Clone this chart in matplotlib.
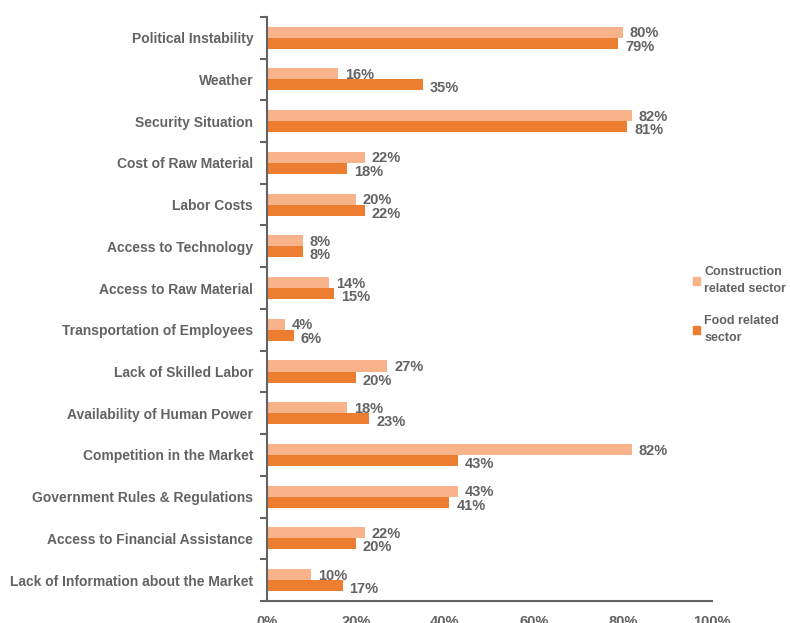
import matplotlib.pyplot as plt
from matplotlib.patches import Rectangle
import numpy as np

plt.rcParams["font.family"] = ["Liberation Sans", "DejaVu Sans"]

categories = ["Political Instability", "Weather", "Security Situation",
              "Cost of Raw Material", "Labor Costs", "Access to Technology",
              "Access to Raw Material", "Transportation of Employees",
              "Lack of Skilled Labor", "Availability of Human Power",
              "Competition in the Market", "Government Rules & Regulations",
              "Access to Financial Assistance",
              "Lack of Information about the Market"]
construction = [80, 16, 82, 22, 20, 8, 14, 4, 27, 18, 82, 43, 22, 10]
food = [79, 35, 81, 18, 22, 8, 15, 6, 20, 23, 43, 41, 20, 17]
xticks = [0, 20, 40, 60, 80, 100]

light = "#F8B38A"
dark = "#ED7D31"
gray = "#636363"

fig = plt.figure(figsize=(7.9, 6.23), dpi=100)
ax = fig.add_axes([0.338, 0.0353, 0.563, 0.9377])

y = np.arange(len(categories))
h = 0.265
ax.barh(y - h / 2, construction, height=h, color=light)
ax.barh(y + h / 2, food, height=h, color=dark)

for i in range(len(categories)):
    ax.annotate(f"{construction[i]}%", (construction[i], y[i] - h / 2),
                xytext=(5, -0.8), textcoords="offset points", va="center",
                ha="left", color=gray, fontsize=10.5, fontweight="bold")
    ax.annotate(f"{food[i]}%", (food[i], y[i] + h / 2),
                xytext=(5, -2.5), textcoords="offset points", va="center",
                ha="left", color=gray, fontsize=10.5, fontweight="bold")

ax.set_xlim(0, 100)
ax.set_ylim(len(categories) - 0.5, -0.5)
ax.set_yticks(y)
ax.set_yticklabels(categories, fontsize=10, fontweight="bold", color=gray)
ax.set_yticks(np.arange(len(categories) + 1) - 0.5, minor=True)
ax.tick_params(axis="y", which="major", length=0, pad=10)
ax.tick_params(axis="y", which="minor", length=5, width=1.5, color=gray)
ax.set_xticks(xticks)
ax.set_xticklabels([f"{v}%" for v in xticks], fontsize=10.5,
                   fontweight="bold", color=gray)
ax.tick_params(axis="x", length=0, pad=10)

for s in ["top", "right"]:
    ax.spines[s].set_visible(False)
for s in ["left", "bottom"]:
    ax.spines[s].set_color(gray)
    ax.spines[s].set_linewidth(1.5)

handles = [Rectangle((0, 0), 1, 1, color=light), Rectangle((0, 0), 1, 1, color=dark)]
leg = fig.legend(handles, ["Construction\nrelated sector", "Food related\nsector"],
                 loc="upper left", bbox_to_anchor=(0.874, 0.577), frameon=False,
                 handlelength=0.6, handleheight=0.6, handletextpad=0.3,
                 borderaxespad=0, borderpad=0.2,
                 labelspacing=1.6, prop={"size": 9, "weight": "bold"},
                 labelcolor=gray)
for t in leg.get_texts():
    t.set_linespacing(1.55)

fig.savefig("out.png", dpi=100)
